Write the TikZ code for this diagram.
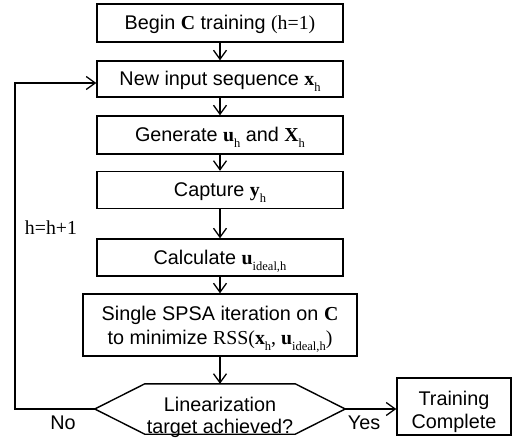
\documentclass[tikz,border=0pt]{standalone}
\usepackage{fontspec}
\setmainfont{Liberation Sans}
\newfontfamily\tms{Liberation Serif}
\usetikzlibrary{arrows.meta}
\newcommand\bv[1]{{\tms\bfseries #1}}
\newcommand\sbs[1]{\raisebox{-0.28em}{\tms\fontsize{12.5}{13}\selectfont #1}}
\newcommand\tmr[1]{{\tms #1}}
\newcommand\twol[2]{\begin{tabular}[t]{@{}c@{}}#1\\#2\end{tabular}}
\begin{document}
\begin{tikzpicture}[x=1pt,y=-1pt,
  font=\fontsize{19.8}{20}\selectfont,
  box/.style={draw,line width=1.4pt,minimum width=246pt,inner sep=0pt,text height=16pt,text depth=2pt},
  arr/.style={line width=1.3pt,-{Straight Barb[length=9pt,width=13pt,line width=1.3pt]}},
  lbl/.style={inner sep=0pt,anchor=base}]
\useasboundingbox (0,0) rectangle (519,443);
\node[box,minimum height=38pt] (b1) at (220,23) {Begin \bv{C} training \tmr{(h=1)}};
\node[box,minimum height=36pt] (b2) at (220,79) {New input sequence \bv{x}\sbs{h}};
\node[box,minimum height=38pt] (b3) at (220,135) {Generate \bv{u}\sbs{h} and \bv{X}\sbs{h}};
\node[box,minimum height=37pt] (b4) at (220,190) {Capture \bv{y}\sbs{h}};
\node[box,minimum height=37pt] (b5) at (220,257.5) {Calculate \bv{u}\sbs{ideal,h}};
\node[box,minimum width=274pt,minimum height=62pt,text height=16pt,text depth=24pt,font=\fontsize{19.8}{24}\selectfont] (b6) at (220,325) {\twol{Single SPSA iteration on \bv{C}}{to minimize \tmr{RSS(}\bv{x}\sbs{h}\tmr{, }\bv{u}\sbs{ideal,h}\tmr{)}}};
\node[inner sep=0pt,minimum width=250pt,minimum height=50pt,text height=16pt,text depth=12pt,font=\fontsize{19.8}{22.5}\selectfont] (dec) at (220,409) {\twol{Linearization}{target achieved?}};
\draw[line width=1.4pt,line join=miter] (dec.west) -- ([xshift=50pt]dec.north west) -- ([xshift=-50pt]dec.north east) -- (dec.east) -- ([xshift=-50pt]dec.south east) -- ([xshift=50pt]dec.south west) -- cycle;
\node[box,minimum width=114pt,minimum height=57pt,text height=16pt,text depth=19pt,font=\fontsize{19.8}{23.5}\selectfont] (tc) at (454,406.5) {\twol{Training}{Complete}};
\coordinate (lx) at (15,0);
\draw[arr] (b1) -- (b2);
\draw[arr] (b2) -- (b3);
\draw[arr] (b3) -- (b4);
\draw[arr] (b4) -- (b5);
\draw[arr] (b5) -- (b6);
\draw[arr] (b6) -- (dec.north);
\draw[arr] (dec.east) -- (dec.east -| tc.west);
\draw[arr,line join=miter] (dec.west) -- (dec.west -| lx) |- ([yshift=-4pt]b2.west);
\node[lbl] (hh) at (51,235) {\tmr{h=h+1}};
\node[lbl] (no) at (63,429) {No};
\node[lbl] (yes) at (364,429) {Yes};
\end{tikzpicture}
\end{document}
